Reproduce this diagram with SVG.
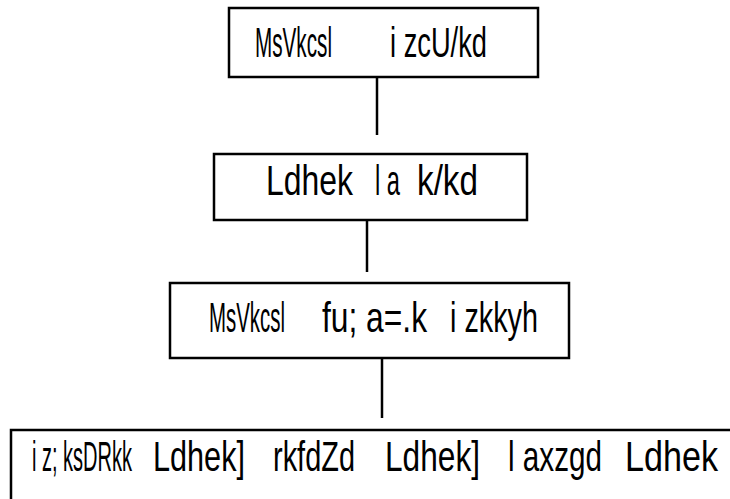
<svg xmlns="http://www.w3.org/2000/svg" width="730" height="499" viewBox="0 0 730 499">
<style>
.box{fill:#fff;stroke:#000;stroke-width:2.5}
.t{font-family:"Liberation Sans",Arial,sans-serif;font-size:42px;fill:#000}
.c{stroke:#000;stroke-width:2.5;fill:none}
</style>
<rect width="730" height="499" fill="#fff"/>
<g id="connectors">
<line class="c" x1="377" y1="77" x2="377" y2="135"/>
<line class="c" x1="367" y1="220" x2="367" y2="272"/>
<line class="c" x1="382" y1="358" x2="382" y2="418"/>
</g>
<g id="node1">
<rect class="box" x="229" y="8" width="309" height="69"/>
<text class="t" y="57"><tspan x="255" textLength="77" lengthAdjust="spacingAndGlyphs">MsVkcsl</tspan><tspan x="390" textLength="97" lengthAdjust="spacingAndGlyphs">i zcU/kd</tspan></text>
</g>
<g id="node2">
<rect class="box" x="214" y="154" width="313" height="66"/>
<text class="t" y="195"><tspan x="266" textLength="87" lengthAdjust="spacingAndGlyphs">Ldhek</tspan><tspan x="375" textLength="25" lengthAdjust="spacingAndGlyphs">l a</tspan><tspan x="417" textLength="61" lengthAdjust="spacingAndGlyphs">k/kd</tspan></text>
</g>
<g id="node3">
<rect class="box" x="170" y="283" width="399" height="75"/>
<text class="t" y="332"><tspan x="209" textLength="76" lengthAdjust="spacingAndGlyphs">MsVkcsl</tspan><tspan x="322" textLength="105" lengthAdjust="spacingAndGlyphs">fu; a=.k</tspan><tspan x="450" textLength="88" lengthAdjust="spacingAndGlyphs">i zkkyh</tspan></text>
</g>
<g id="node4">
<rect class="box" x="11" y="430" width="740" height="100"/>
<text class="t" y="471"><tspan x="32" textLength="100" lengthAdjust="spacingAndGlyphs">i z; ksDRkk</tspan><tspan x="153" textLength="92" lengthAdjust="spacingAndGlyphs">Ldhek]</tspan><tspan x="273" textLength="82" lengthAdjust="spacingAndGlyphs">rkfdZd</tspan><tspan x="385" textLength="95" lengthAdjust="spacingAndGlyphs">Ldhek]</tspan><tspan x="508" textLength="94" lengthAdjust="spacingAndGlyphs">l axzgd</tspan><tspan x="625" textLength="93" lengthAdjust="spacingAndGlyphs">Ldhek</tspan></text>
</g>
</svg>
